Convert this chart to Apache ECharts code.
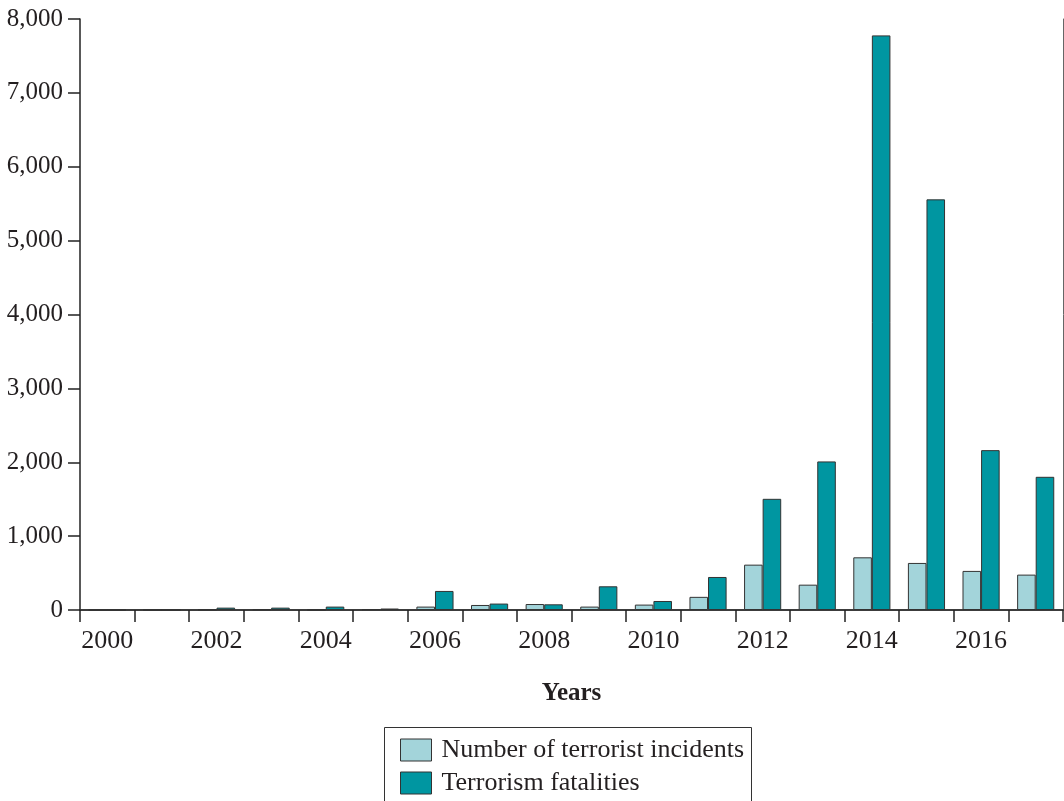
<!DOCTYPE html>
<html>
<head>
<meta charset="utf-8">
<script src="https://cdn.jsdelivr.net/npm/echarts@6/dist/echarts.min.js"></script>
<style>
html,body{margin:0;padding:0;background:#fff;}
#chart{width:1064px;height:801px;}
</style>
</head>
<body>
<div id="chart"></div>
<script>
const years = ['2000','2001','2002','2003','2004','2005','2006','2007','2008','2009','2010','2011','2012','2013','2014','2015','2016','2017'];
const incidents = [0,0,3,10,2,12,46,68,81,46,73,178,614,343,713,637,529,479];
const fatalities = [0,0,32,32,46,20,258,87,77,321,122,447,1505,2011,7778,5559,2164,1803];
const seriesNames = ['Number of terrorist incidents','Terrorism fatalities'];
const yTicks = {min:0, max:8000, interval:1000};

const FONT = '"Liberation Serif", "Times New Roman", serif';
const INK = '#231f20';
const chart = echarts.init(document.getElementById('chart'), null, {renderer:'canvas'});
chart.setOption({
  animation:false,
  backgroundColor:'#fff',
  textStyle:{fontFamily:FONT,color:INK},
  grid:{left:80,right:1,top:19,bottom:191,containLabel:false},
  graphic:[{
    type:'rect',
    shape:{x:384.5,y:727.5,width:367,height:100},
    style:{fill:'none',stroke:'#333',lineWidth:1},
    silent:true
  }],
  legend:{
    orient:'vertical',
    left:400, top:737,
    width:360, height:120,
    padding:0,
    itemWidth:31, itemHeight:22, itemGap:7,
    icon:'rect',
    selectedMode:false,
    itemStyle:{borderColor:'#333',borderWidth:1},
    textStyle:{fontFamily:FONT,fontSize:26,color:INK,padding:[0,0,0,5],lineHeight:26},
    data:seriesNames
  },
  xAxis:[{
    type:'category',
    data:years,
    name:'Years',
    nameLocation:'middle',
    nameGap:71,
    nameTextStyle:{fontFamily:FONT,fontSize:25,fontWeight:'bold',color:INK,verticalAlign:'top'},
    axisLine:{lineStyle:{color:'#222',width:1.5}},
    axisTick:{show:true,interval:0,length:12,alignWithLabel:false,lineStyle:{color:'#222',width:1.5}},
    axisLabel:{interval:1,fontFamily:FONT,fontSize:26,color:INK,margin:18},
    splitLine:{show:false}
  },{
    type:'category',
    position:'top',
    data:years,
    axisLine:{show:true,lineStyle:{color:'#333',width:1.5}},
    axisTick:{show:false},axisLabel:{show:false},splitLine:{show:false}
  }],
  yAxis:[{
    type:'value',
    min:yTicks.min,max:yTicks.max,interval:yTicks.interval,
    axisLine:{show:true,lineStyle:{color:'#222',width:1.5}},
    axisTick:{show:true,length:12,lineStyle:{color:'#222',width:1.5}},
    axisLabel:{fontFamily:FONT,fontSize:25,color:INK,margin:17,
      formatter:function(v){return v.toLocaleString('en-US');}},
    splitLine:{show:false}
  },{
    type:'value',
    position:'right',
    min:yTicks.min,max:yTicks.max,interval:yTicks.interval,
    axisLine:{show:true,lineStyle:{color:'#666',width:1}},
    axisTick:{show:false},axisLabel:{show:false},splitLine:{show:false}
  }],
  series:[{
    name:seriesNames[0],
    type:'bar',
    data:incidents,
    barGap:'0%',
    barCategoryGap:'32%',
    itemStyle:{color:'#a3d4da',borderColor:'#333',borderWidth:1}
  },{
    name:seriesNames[1],
    type:'bar',
    data:fatalities,
    barGap:'0%',
    barCategoryGap:'32%',
    itemStyle:{color:'#0096a1',borderColor:'#333',borderWidth:1}
  }]
});
</script>
</body>
</html>
